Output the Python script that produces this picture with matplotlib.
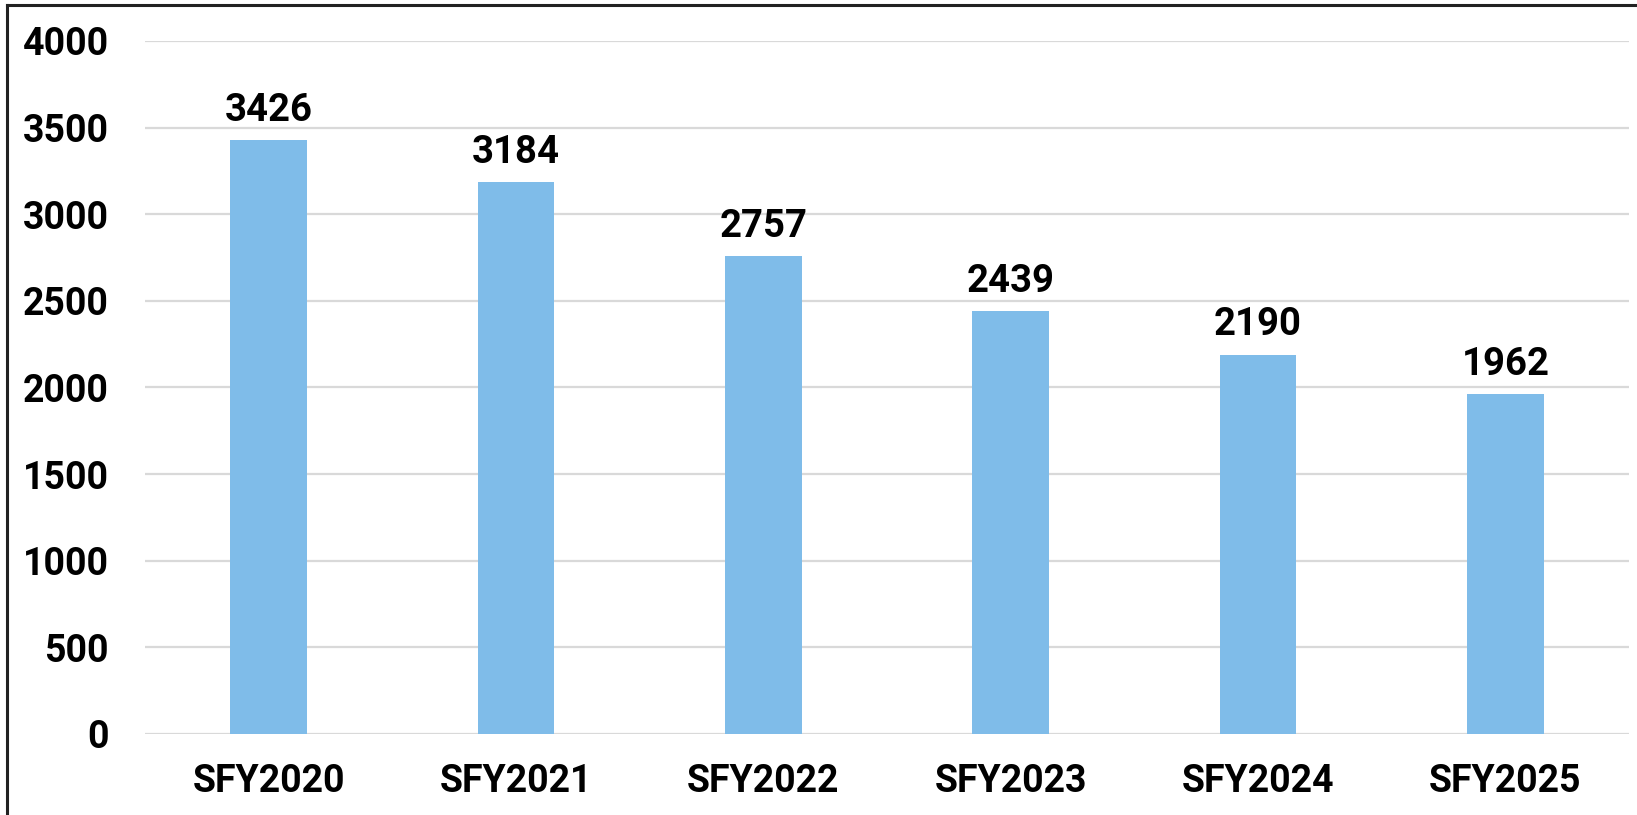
import matplotlib.pyplot as plt
from matplotlib.lines import Line2D

# data
years = ["SFY2020", "SFY2021", "SFY2022", "SFY2023", "SFY2024", "SFY2025"]
counts = [3426, 3184, 2757, 2439, 2190, 1962]
y_ticks = [0, 500, 1000, 1500, 2000, 2500, 3000, 3500, 4000]

plt.rcParams['font.family'] = ['Roboto', 'DejaVu Sans']
plt.rcParams['font.weight'] = 'bold'

fig = plt.figure(figsize=(16.37, 8.15), dpi=100, facecolor="white")
ax = fig.add_axes([0.0886, 0.0994, 0.9065, 0.8503])

x = range(len(years))
bars = ax.bar(x, counts, width=0.31, color="#7fbce9", zorder=3)

# value labels above the bars
for b, v in zip(bars, counts):
    ax.annotate(str(v), (b.get_x() + b.get_width() / 2, v),
                xytext=(0, 8), textcoords="offset points",
                ha="center", va="bottom", fontsize=27.5, fontweight="bold")

ax.set_xlim(-0.5, len(years) - 0.5)
ax.set_ylim(0, 4000)
ax.set_yticks(y_ticks)
ax.set_xticks(list(x))
ax.set_xticklabels(years)

ax.grid(axis="y", color="#d9d9d9", linewidth=1.6, zorder=0)
for s in ax.spines.values():
    s.set_visible(False)
ax.tick_params(axis="both", length=0, labelsize=27)
ax.tick_params(axis="y", pad=26)
ax.tick_params(axis="x", pad=21)
for lab in ax.get_xticklabels() + ax.get_yticklabels():
    lab.set_fontweight("bold")

# outer frame, only top and left visible in the crop
fig.add_artist(Line2D([0.0043, 1.0], [0.9939, 0.9939], color="#222222",
                      linewidth=2.2, transform=fig.transFigure))
fig.add_artist(Line2D([0.0043, 0.0043], [0.0, 0.9939], color="#222222",
                      linewidth=2.2, transform=fig.transFigure))

fig.savefig("out.png", dpi=100, facecolor="white")
